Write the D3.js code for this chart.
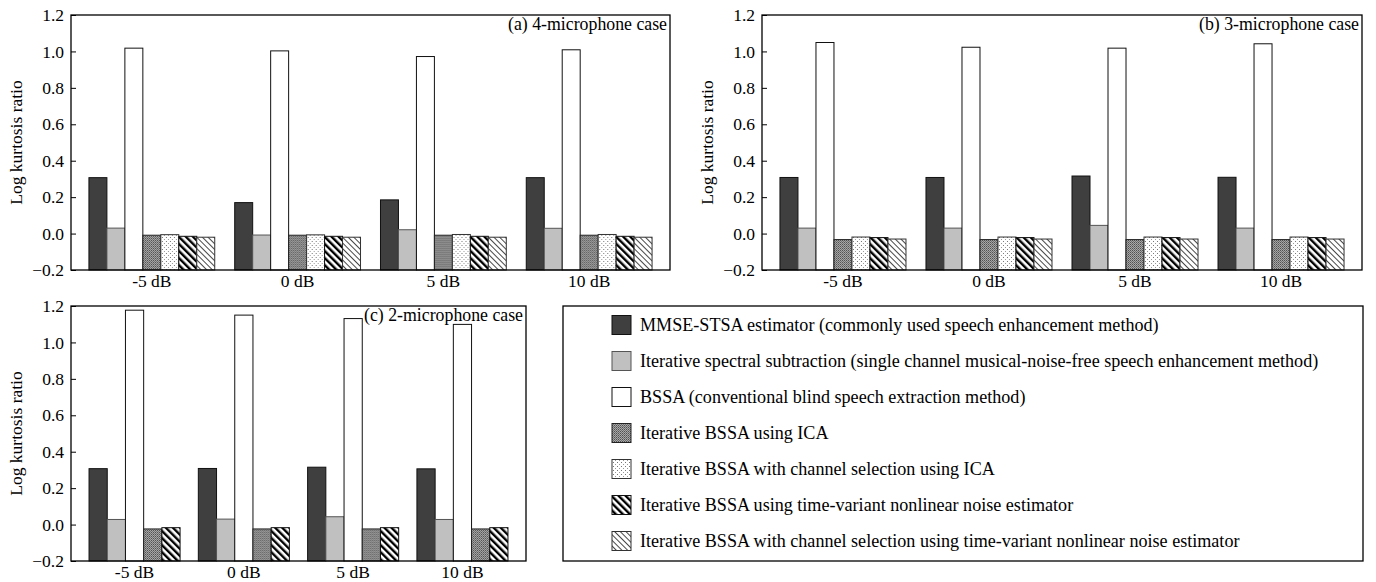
<!DOCTYPE html>
<html>
<head>
<meta charset="utf-8">
<script src="https://cdn.jsdelivr.net/npm/d3@7"></script>
<style>
  body { margin: 0; background: #fff; }
  svg text { font-family: "Liberation Serif", "Times New Roman", "DejaVu Serif", serif; fill: #000; }
</style>
</head>
<body>
<script>
const WIDTH = 1376;
const HEIGHT = 582;

const snrLabels = ["-5 dB", "0 dB", "5 dB", "10 dB"];
const yTicks = [-0.2, 0.0, 0.2, 0.4, 0.6, 0.8, 1.0, 1.2];

const methods = [
  "MMSE-STSA estimator (commonly used speech enhancement method)",
  "Iterative spectral subtraction (single channel musical-noise-free speech enhancement method)",
  "BSSA (conventional blind speech extraction method)",
  "Iterative BSSA using ICA",
  "Iterative BSSA with channel selection using ICA",
  "Iterative BSSA using time-variant nonlinear noise estimator",
  "Iterative BSSA with channel selection using time-variant nonlinear noise estimator"
];

// one row per SNR, one value per method
const case4mic = [
  [0.307, 0.030, 1.018, -0.009, -0.006, -0.015, -0.020],
  [0.170, -0.008, 1.003, -0.009, -0.007, -0.015, -0.020],
  [0.185, 0.021, 0.972, -0.009, -0.005, -0.015, -0.020],
  [0.307, 0.029, 1.009, -0.009, -0.005, -0.015, -0.020]
];
const case3mic = [
  [0.308, 0.030, 1.049, -0.033, -0.019, -0.022, -0.030],
  [0.308, 0.030, 1.023, -0.033, -0.019, -0.022, -0.030],
  [0.316, 0.045, 1.018, -0.033, -0.019, -0.022, -0.030],
  [0.309, 0.030, 1.042, -0.033, -0.019, -0.022, -0.030]
];
// 2-mic case has no channel-selection variants
const case2series = [0, 1, 2, 3, 5];
const case2mic = [
  [0.307, 0.028, 1.177, -0.024, -0.017],
  [0.308, 0.030, 1.150, -0.024, -0.017],
  [0.315, 0.043, 1.131, -0.024, -0.017],
  [0.306, 0.028, 1.099, -0.024, -0.017]
];

const svg = d3.select("body")
              .append("svg")
              .attr("width", WIDTH)
              .attr("height", HEIGHT);

const defs = svg.append("defs");

// fill patterns
const pIca = defs.append("pattern").attr("id", "p-ica")
  .attr("patternUnits", "userSpaceOnUse").attr("width", 2).attr("height", 2);
pIca.append("rect").attr("width", 2).attr("height", 2).attr("fill", "#a8a8a8");
pIca.append("rect").attr("width", 1).attr("height", 1).attr("fill", "#505050");
pIca.append("rect").attr("x", 1).attr("y", 1).attr("width", 1).attr("height", 1).attr("fill", "#707070");

const pDot = defs.append("pattern").attr("id", "p-dot")
  .attr("patternUnits", "userSpaceOnUse").attr("width", 4).attr("height", 4);
pDot.append("rect").attr("width", 4).attr("height", 4).attr("fill", "#fff");
pDot.append("rect").attr("x", 1).attr("y", 1).attr("width", 1).attr("height", 1).attr("fill", "#777");
pDot.append("rect").attr("x", 3).attr("y", 3).attr("width", 1).attr("height", 1).attr("fill", "#999");

const pThick = defs.append("pattern").attr("id", "p-thick")
  .attr("patternUnits", "userSpaceOnUse").attr("width", 5).attr("height", 5)
  .attr("patternTransform", "rotate(-45)");
pThick.append("rect").attr("width", 5).attr("height", 5).attr("fill", "#fff");
pThick.append("rect").attr("width", 2.4).attr("height", 5).attr("fill", "#000");

const pThin = defs.append("pattern").attr("id", "p-thin")
  .attr("patternUnits", "userSpaceOnUse").attr("width", 4).attr("height", 4)
  .attr("patternTransform", "rotate(-45)");
pThin.append("rect").attr("width", 4).attr("height", 4).attr("fill", "#fff");
pThin.append("rect").attr("width", 0.9).attr("height", 4).attr("fill", "#333");

const fills = ["#3f3f3f", "#c0c0c0", "#fff", "url(#p-ica)", "url(#p-dot)", "url(#p-thick)", "url(#p-thin)"];
const strokes = ["#111", "#555", "#111", "#222", "#333", "#111", "#333"];

const drawPanel = (cfg) => {
  const g = svg.append("g");

  const y = d3.scaleLinear()
              .domain([-0.2, 1.2])
              .range([cfg.bottom, cfg.top]);

  const x = d3.scaleBand()
              .domain(snrLabels)
              .range([cfg.left, cfg.right])
              .paddingInner(cfg.pin)
              .paddingOuter(cfg.pout);

  const xs = d3.scaleBand()
               .domain(cfg.series)
               .range([0, x.bandwidth()]);

  // bars
  cfg.data.forEach((row, i) => {
    g.append("g")
     .attr("transform", "translate(" + x(snrLabels[i]) + ",0)")
     .selectAll("rect")
     .data(row)
     .join("rect")
     .attr("x", (d, j) => xs(cfg.series[j]))
     .attr("y", d => y(d))
     .attr("width", xs.bandwidth())
     .attr("height", d => y(-0.2) - y(d))
     .attr("fill", (d, j) => fills[cfg.series[j]])
     .attr("stroke", (d, j) => strokes[cfg.series[j]])
     .attr("stroke-width", 1);
  });

  // frame
  g.append("rect")
   .attr("x", cfg.left)
   .attr("y", cfg.top)
   .attr("width", cfg.right - cfg.left)
   .attr("height", cfg.bottom - cfg.top)
   .attr("fill", "none")
   .attr("stroke", "#000")
   .attr("stroke-width", 1.3);

  const yAxis = d3.axisLeft(y)
                  .tickValues(yTicks)
                  .tickFormat(d3.format(".1f"))
                  .tickSizeInner(-5)
                  .tickSizeOuter(0)
                  .tickPadding(7);

  const ya = g.append("g")
              .attr("transform", "translate(" + cfg.left + ",0)")
              .call(yAxis);
  ya.select(".domain").remove();
  ya.selectAll("line").attr("stroke", "#000");
  ya.selectAll("text")
    .attr("font-size", 17.5)
    .attr("x", -7);

  const xAxis = d3.axisBottom(x)
                  .tickSize(0)
                  .tickPadding(5);
  const xa = g.append("g")
              .attr("transform", "translate(0," + cfg.bottom + ")")
              .call(xAxis);
  xa.select(".domain").remove();
  xa.selectAll("text")
    .attr("font-size", 17.5);

  g.append("text")
   .attr("transform", "translate(" + (cfg.left - 49) + "," + ((cfg.top + cfg.bottom) / 2) + ") rotate(-90)")
   .attr("text-anchor", "middle")
   .attr("font-size", 17.5)
   .text("Log kurtosis ratio");

  g.append("text")
   .attr("x", cfg.right - 3)
   .attr("y", cfg.top + 15)
   .attr("text-anchor", "end")
   .attr("font-size", 17.8)
   .text(cfg.title);
}

const drawLegend = () => {
  const box = { left: 563, right: 1363, top: 306, bottom: 561 };
  const g = svg.append("g");

  g.append("rect")
   .attr("x", box.left)
   .attr("y", box.top)
   .attr("width", box.right - box.left)
   .attr("height", box.bottom - box.top)
   .attr("fill", "#fff")
   .attr("stroke", "#000")
   .attr("stroke-width", 1.3);

  const rowY = d3.scalePoint()
                 .domain(d3.range(methods.length))
                 .range([box.top + 19, box.bottom - 20]);

  const rows = g.selectAll("g.row")
                .data(methods)
                .join("g")
                .attr("class", "row")
                .attr("transform", (d, i) => "translate(" + (box.left + 49) + "," + rowY(i) + ")");

  rows.append("rect")
      .attr("x", 0)
      .attr("y", -9.5)
      .attr("width", 19)
      .attr("height", 19)
      .attr("fill", (d, i) => fills[i])
      .attr("stroke", (d, i) => strokes[i])
      .attr("stroke-width", 1);

  rows.append("text")
      .attr("x", 28)
      .attr("dy", "0.33em")
      .attr("font-size", 18.1)
      .text(d => d);
}

drawPanel({ left: 71, right: 670, top: 15, bottom: 270, pin: 0.137, pout: 0.123,
            data: case4mic, series: d3.range(7), title: "(a) 4-microphone case" });
drawPanel({ left: 762, right: 1362, top: 15, bottom: 270, pin: 0.137, pout: 0.123,
            data: case3mic, series: d3.range(7), title: "(b) 3-microphone case" });
drawPanel({ left: 71, right: 526, top: 306, bottom: 561, pin: 0.167, pout: 0.165,
            data: case2mic, series: case2series, title: "(c) 2-microphone case" });
drawLegend();
</script>
</body>
</html>
